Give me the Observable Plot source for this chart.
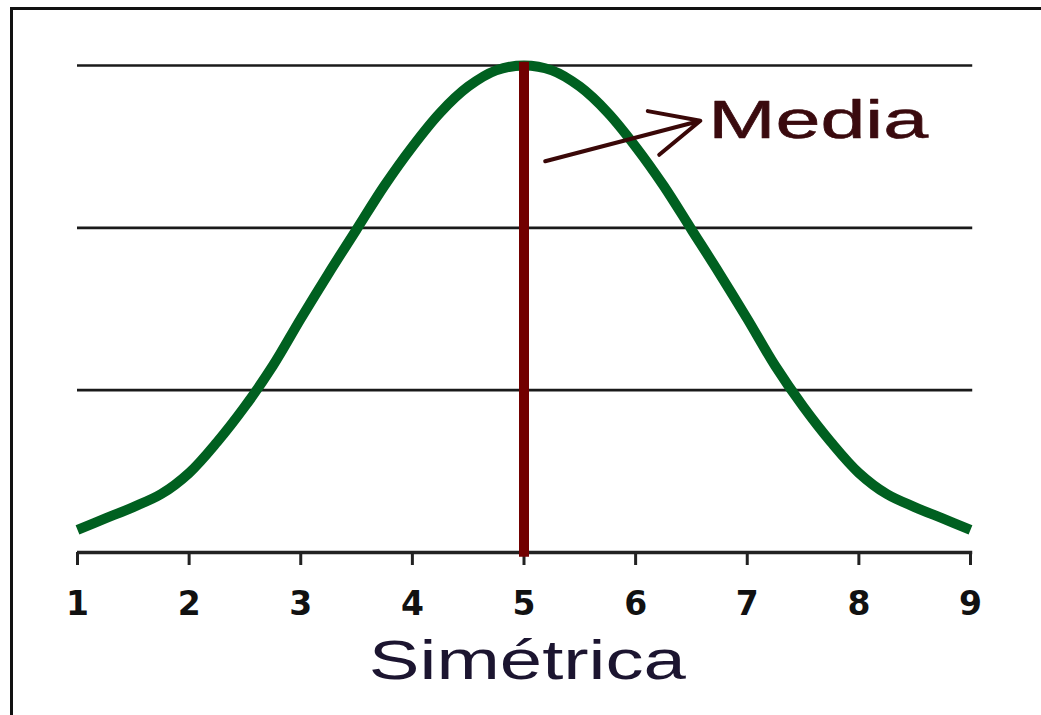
<!DOCTYPE html>
<html>
<head>
<meta charset="utf-8">
<script src="https://cdn.jsdelivr.net/npm/d3@7"></script>
<script src="https://cdn.jsdelivr.net/npm/@observablehq/plot@0.6"></script>
<style>
  html, body { margin: 0; padding: 0; background: #fff; overflow: hidden; }
  #wrap { position: relative; width: 1041px; height: 715px; }
  #frame { position: absolute; left: 10px; top: 7px; width: 1100px; height: 800px;
           border: 3px solid #111; box-sizing: border-box; pointer-events: none; }
  #chart { position: absolute; left: 0; top: 0; }
</style>
</head>
<body>
<div id="wrap"><div id="chart"></div><div id="frame"></div></div>
<script>
// Data
const xValues = [1, 1.25, 1.5, 1.75, 2, 2.25, 2.5, 2.75, 3, 3.25, 3.5, 3.75, 4, 4.25, 4.5, 4.75, 5,
                 5.25, 5.5, 5.75, 6, 6.25, 6.5, 6.75, 7, 7.25, 7.5, 7.75, 8, 8.25, 8.5, 8.75, 9];
const yValues = [0.14, 0.21, 0.28, 0.36, 0.49, 0.68, 0.9, 1.15, 1.44, 1.72, 1.99, 2.26, 2.50, 2.71, 2.87, 2.97, 3.0,
                 2.97, 2.87, 2.71, 2.50, 2.26, 1.99, 1.72, 1.44, 1.15, 0.9, 0.68, 0.49, 0.36, 0.28, 0.21, 0.14];
const xTicks = [1, 2, 3, 4, 5, 6, 7, 8, 9];
const gridValues = [1, 2, 3];
const meanValue = 5;
const xLabel = "Simétrica";
const meanLabel = "Media";
const arrowFrom = [5.19, 2.41];
const arrowTo = [6.58, 2.66];

const curve = xValues.map((x, i) => ({x, y: yValues[i]}));

const chart = Plot.plot({
  width: 1041,
  height: 715,
  marginLeft: 77,
  marginRight: 71,
  marginTop: 65,
  marginBottom: 163,
  x: {domain: [1, 9]},
  y: {domain: [0, 3], axis: null},
  style: {background: "transparent", overflow: "visible"},
  marks: [
    Plot.ruleY(gridValues, {x1: 1, x2: 9.02, stroke: "#1a1a1a", strokeWidth: 2.6}),
    Plot.ruleY([0], {x1: 1, x2: 9.02, stroke: "#222", strokeWidth: 3.4}),
    Plot.axisX({ticks: xTicks, tickFormat: d3.format("d"), tickSize: 13, tickPadding: 26,
                fontSize: 33, fontWeight: "bold", fontFamily: "DejaVu Sans",
                stroke: "#222", strokeWidth: 3, fill: "#111", label: null}),
    Plot.line(curve, {x: "x", y: "y", curve: "catmull-rom", stroke: "#006020",
                      strokeWidth: 10, strokeLinecap: "butt", strokeLinejoin: "round"}),
    Plot.ruleX([meanValue], {y1: -0.03, y2: 3.02, stroke: "#720000", strokeWidth: 10}),
    Plot.arrow([{x1: arrowFrom[0], y1: arrowFrom[1], x2: arrowTo[0], y2: arrowTo[1]}],
               {x1: "x1", y1: "y1", x2: "x2", y2: "y2", stroke: "#3a0808", strokeWidth: 4,
                headLength: 26, headAngle: 50}),
    Plot.text([meanLabel], {x: 6.65, y: 2.66, text: d => d, textAnchor: "start",
               fontSize: 54, fontFamily: "Liberation Sans", fill: "#3a0a0e",
               stroke: "#3a0a0e", strokeWidth: 0.6, className: "media-label"}),
    Plot.text([xLabel], {x: 5.03, y: -0.67, text: d => d, textAnchor: "middle",
               fontSize: 55, fontFamily: "Liberation Sans", fill: "#1c1530",
               className: "x-label"})
  ]
});
document.getElementById("chart").append(chart);

// stretch the two labels horizontally as in the reference
d3.select(chart).selectAll(".media-label text").attr("textLength", 220).attr("lengthAdjust", "spacingAndGlyphs");
d3.select(chart).selectAll(".x-label text").attr("textLength", 317).attr("lengthAdjust", "spacingAndGlyphs");
</script>
</body>
</html>
